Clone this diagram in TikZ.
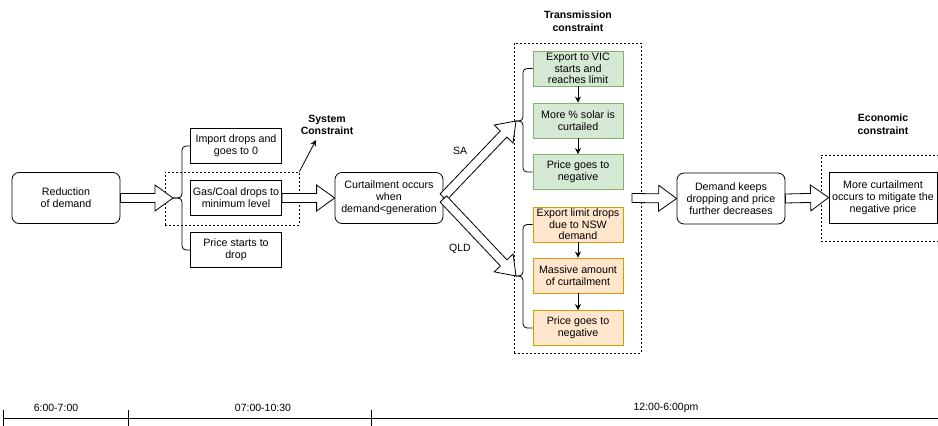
\documentclass[tikz,border=0pt]{standalone}
\usepackage{fontspec}
\setmainfont{Liberation Sans}
\usetikzlibrary{calc,arrows.meta}
\definecolor{grfill}{HTML}{D5E8D4}
\definecolor{grline}{HTML}{82B366}
\definecolor{orfill}{HTML}{FFE6CC}
\definecolor{orline}{HTML}{D79B00}
\newcommand\blockarr[2]{%
  \coordinate (ba-c) at ($(#2)!18pt!(#1)$);
  \draw[bline, fill=white] ($(#1)!4.5pt!90:(#2)$) -- ($(ba-c)!4.5pt!90:(#2)$) -- ($(ba-c)!13pt!90:(#2)$) -- (#2)
    -- ($(ba-c)!13pt!-90:(#2)$) -- ($(ba-c)!4.5pt!-90:(#2)$) -- ($(#1)!4.5pt!-90:(#2)$) -- cycle;
}
\tikzset{
  bline/.style={line width=0.8pt},
  box/.style={draw, bline, align=center, inner sep=1pt, font=\fontsize{10.7}{12.2}\selectfont},
  rbox/.style={box, rounded corners=7pt, minimum width=108pt, minimum height=51pt},
  sbox/.style={box, minimum width=91pt, minimum height=35pt},
  gbox/.style={box, fill=grfill, draw=grline, minimum width=90pt, minimum height=35pt, font=\fontsize{10.7}{11.6}\selectfont},
  obox/.style={box, fill=orfill, draw=orline, minimum width=90pt, minimum height=35pt, font=\fontsize{10.7}{11.6}\selectfont},
  dbox/.style={draw, bline, dash pattern=on 2pt off 2pt, inner sep=0pt},
  title/.style={font=\bfseries\fontsize{10.5}{12.5}\selectfont, align=center},
  lbl/.style={font=\fontsize{10.5}{12}\selectfont},
  flow/.style={bline, -{Stealth[length=6pt,width=6pt]}},
  brace/.style={bline, rounded corners=4pt}
}
\begin{document}
\begin{tikzpicture}[x=1pt,y=-1pt]
\useasboundingbox[fill=white] (0,0) rectangle (938,426);

% dashed constraint frames
\node[dbox, minimum width=134pt, minimum height=53pt] (sys) at (232,198.5) {};
\node[dbox, minimum width=127pt, minimum height=310pt] (trans) at (577.5,198) {};
\node[dbox, minimum width=130pt, minimum height=86pt] (econ) at (886,198) {};

% titles
\node[title] (systitle) at (327,125) {System\\Constraint};
\node[title] (transtitle) at (578,21) {Transmission\\constraint};
\node[title] (econtitle) at (883,124) {Economic\\constraint};

% main boxes
\node[rbox] (red) at (66,198) {Reduction\\of demand};
\node[sbox] (imp) at (236,146) {Import drops and\\goes to 0};
\node[sbox] (gas) at (236,198) {Gas/Coal drops to\\minimum level};
\node[sbox] (pri) at (236,250) {Price starts to\\drop};
\node[rbox] (curt) at (389,198) {Curtailment occurs\\when\\demand<generation};
\node[rbox] (dem) at (731,198.5) {Demand keeps\\dropping and price\\further decreases};
\node[box, minimum width=108pt, minimum height=51pt] (more) at (883,197.5) {More curtailment\\occurs to mitigate the\\negative price};

% SA chain
\node[gbox] (ev) at (578,68.5) {Export to VIC\\starts and\\reaches limit};
\node[gbox] (ms) at (578,120.5) {More \% solar is\\curtailed};
\node[gbox] (pg) at (578,172) {Price goes to\\negative};
% QLD chain
\node[obox] (el) at (578,224.5) {Export limit drops\\due to NSW\\demand};
\node[obox] (ma) at (578,275.5) {Massive amount\\of curtailment};
\node[obox] (po) at (578,328) {Price goes to\\negative};

\draw[flow] (ev) -- (ms);
\draw[flow] (ms) -- (pg);
\draw[flow] (el) -- (ma);
\draw[flow] (ma) -- (po);

% braces
\coordinate (t1) at (173,198);
\coordinate (t2) at (516,121);
\coordinate (t3) at (516,276);
\draw[brace] (imp.west) -| (182,198) -- (t1);
\draw[brace] (pri.west) -| (182,198) -- (t1);
\draw[brace] (ev.west) -| (523,121) -- (t2);
\draw[brace] (pg.west) -| (523,121) -- (t2);
\draw[brace] (el.west) -| (523,276) -- (t3);
\draw[brace] (po.west) -| (523,276) -- (t3);

% block arrows
\coordinate (c1) at ($(curt.east)+(0,-1)$);
\coordinate (c2) at ($(curt.east)+(0,1)$);
\coordinate (tail5) at (632,198);
\blockarr{red.east}{t1}
\blockarr{gas.east}{curt.west}
\blockarr{c1}{t2}
\blockarr{c2}{t3}
\blockarr{tail5}{dem.west}
\blockarr{dem.east}{more.west}

\node[lbl] (sa) at (460,151) {SA};
\node[lbl] (qld) at (460,249) {QLD};

% system constraint pointer
\coordinate (sysp) at (316,140);
\draw[flow] (sys.north east) -- (sysp);

% timeline
\coordinate (tl0) at (3,418);
\coordinate (tl1) at (938,418);
\draw[bline] (tl0) -- (tl1);
\draw[bline] (3,410) -- (3,426);
\draw[bline] (128.5,410) -- (128.5,426);
\draw[bline] (371,410) -- (371,426);
\node[lbl] (p1) at (56,408) {6:00-7:00};
\node[lbl] (p2) at (263,408) {07:00-10:30};
\node[lbl] (p3) at (666,408) {12:00-6:00pm};
\end{tikzpicture}
\end{document}
